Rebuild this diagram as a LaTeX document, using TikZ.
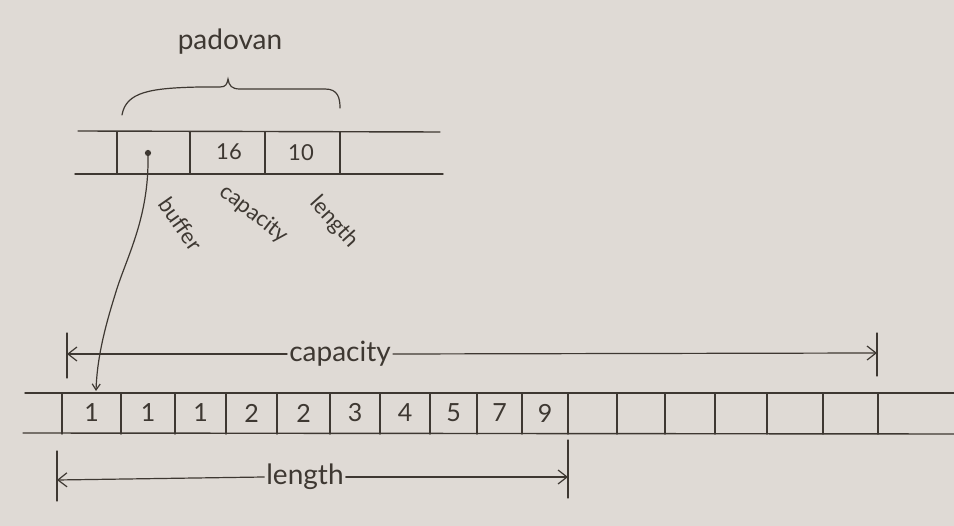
\documentclass[tikz,border=0pt]{standalone}
\usepackage{fontspec}
\setmainfont{Lato}
\usetikzlibrary{arrows.meta}
\definecolor{paper}{RGB}{223,218,213}
\definecolor{pencil}{RGB}{62,56,50}
\tikzset{
  pen/.style={draw=pencil,line width=1.4pt,line cap=round},
  val/.style={text=pencil,font=\fontsize{22}{22}\selectfont,inner sep=1pt},
  bigval/.style={text=pencil,font=\fontsize{25}{25}\selectfont,inner sep=1pt},
  lbl/.style={text=pencil,font=\fontsize{28}{28}\selectfont,inner sep=2pt},
  rlbl/.style={text=pencil,font=\fontsize{22}{22}\selectfont,inner sep=0pt},
  dimline/.style={pen,line width=1.2pt},
  tip/.style={-{Straight Barb[length=9pt,width=14pt,line width=1.2pt]}},
}
\begin{document}
\begin{tikzpicture}[x=1pt,y=-1pt]
\fill[paper] (0,0) rectangle (954,526);
\useasboundingbox (0,0) rectangle (954,526);

% ---- padovan struct ----
\draw[pen] (78,131) -- (440,132);
\draw[pen] (75,174) -- (443,174);
\foreach \x in {117,190,265,340} \draw[pen] (\x,132) -- (\x,174);
\node[circle,fill=pencil,inner sep=2.2pt] (dot) at (148,153) {};
\node[val] (cap) at (229,152) {16};
\node[val] (len) at (301,153) {10};
\draw[pen,line width=1.2pt] (122,115) .. controls (126,92) and (150,88) .. (200,87)
  -- (220,87) .. controls (226,87) and (227,84) .. (228,79)
  .. controls (229,86) and (232,89) .. (240,89) -- (325,89)
  .. controls (338,89) and (340,98) .. (340,108);
\node[lbl] (padovan) at (230,42) {padovan};
\node[rlbl,rotate=-55] (lbuf) at (181,224) {buffer};
\node[rlbl,rotate=-38] (lcap) at (254,214) {capacity};
\node[rlbl,rotate=-48] (llen) at (334,222) {length};

% ---- buffer array ----
\draw[pen] (25,393) -- (954,393);
\draw[pen] (23,433) -- (954,434);
\foreach \x in {62,121,175,226,277,330,380,430,477,522,568,617,665,715,767,823,878}
  \draw[pen] (\x,393) -- (\x,434);
\foreach \v [count=\i] in {1,1,1,2,2,3,4,5,7,9} {
  \pgfmathsetmacro{\xa}{{62,121,175,226,277,330,380,430,477,522,568}[\i-1]}
  \pgfmathsetmacro{\xb}{{62,121,175,226,277,330,380,430,477,522,568}[\i]}
  \node[bigval] (c\i) at ({(\xa+\xb)/2},413) {\v};
}
\coordinate (first) at (96,391);

% pointer
\draw[pen,line width=1.2pt,-{Straight Barb[length=6pt,width=8pt,line width=1.2pt]}]
  (dot.south) .. controls (149,220) and (125,260) .. (115,295)
  .. controls (104,330) and (97,360) .. (first);

% capacity dimension
\draw[dimline] (67,333) -- (67,378);
\draw[dimline] (877,333) -- (877,376);
\coordinate (capL) at (67,354);
\coordinate (capR) at (877,353);
\node[lbl] (capacity) at (340,354) {capacity};
\draw[dimline,tip] (capacity.west) -- (capL);
\draw[dimline,tip] (capacity.east) -- (capR);

% length dimension
\draw[dimline] (57,451) -- (57,501);
\draw[dimline] (568,440) -- (568,498);
\coordinate (lenL) at (57,480);
\coordinate (lenR) at (568,477);
\node[lbl] (length) at (305,477) {length};
\draw[dimline,tip] (length.west) -- (lenL);
\draw[dimline,tip] (length.east) -- (lenR);
\end{tikzpicture}
\end{document}
